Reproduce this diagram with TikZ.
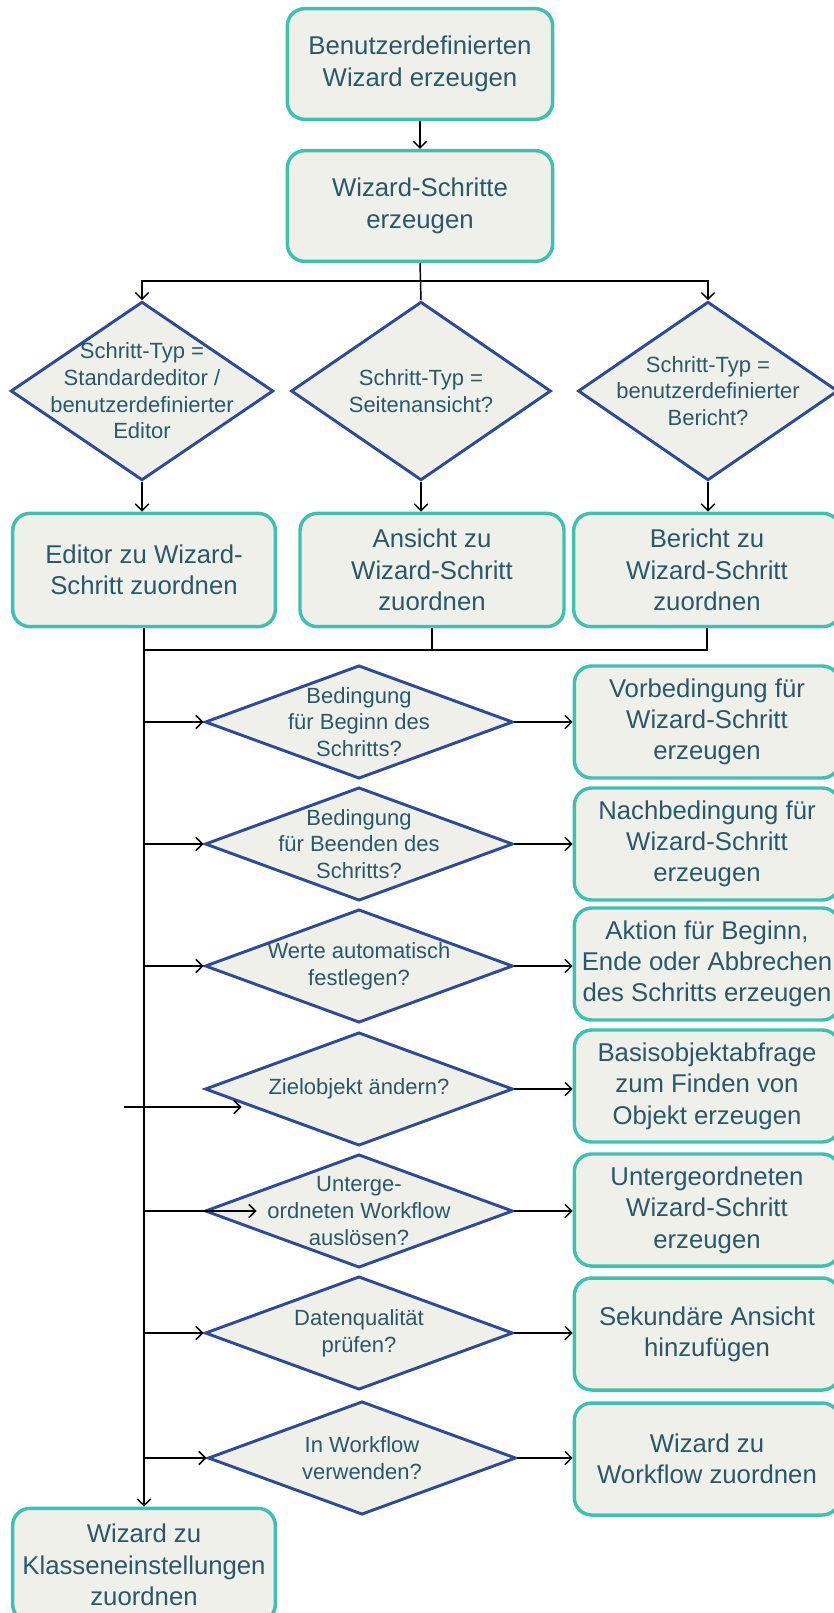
\documentclass[tikz,border=0pt]{standalone}
\usepackage{fontspec}
\setmainfont{Liberation Sans}
\usepackage{xcolor}
\usepackage{tikz}
\usetikzlibrary{arrows.meta, positioning, calc, shapes.geometric}
\definecolor{boxfill}{RGB}{240,240,234}
\definecolor{boxborder}{RGB}{62,192,178}
\definecolor{decborder}{RGB}{46,76,150}
\definecolor{textblue}{RGB}{40,88,106}
\tikzset{
    box/.style={
        rectangle,
        rounded corners=13pt,
        draw=boxborder,
        line width=2.6pt,
        fill=boxfill,
        text=textblue,
        align=center,
        font=\fontsize{19.3}{23.5}\selectfont,
        inner sep=1pt,
        minimum width=199pt,
        minimum height=84pt
    },
    decision/.style={
        diamond,
        draw=decborder,
        line width=2.2pt,
        fill=boxfill,
        inner sep=0pt,
        minimum width=231pt,
        minimum height=85pt
    },
    declabel/.style={
        text=textblue,
        align=center,
        font=\fontsize{16.5}{20}\selectfont,
        inner sep=0pt
    },
    conn/.style={line width=1.1pt},
    arrow/.style={-{Straight Barb[length=5pt,width=10pt]}, line width=1.1pt}
}

\begin{document}
\begin{tikzpicture}[x=0.75pt, y=-0.75pt]

\useasboundingbox (0,0) rectangle (833,1613);

% =========================
% Wizard anlegen
% =========================
\node[box, minimum height=83pt] (create) at (420,64) {Benutzerdefinierten\\Wizard erzeugen};

\node[box, minimum height=83pt] (steps) at (420,206) {Wizard-Schritte\\erzeugen};

% =========================
% Schritt-Typen
% =========================
\node[decision, minimum width=197pt, minimum height=134pt,
    label={[declabel]center:{Schritt-Typ =\\Standardeditor /\\benutzerdefinierter\\Editor}}]
    (typeeditor) at (142,391) {};

\node[decision, minimum width=195pt, minimum height=134pt,
    label={[declabel]center:{Schritt-Typ =\\Seitenansicht?}}]
    (typeview) at (421,391) {};

\node[decision, minimum width=195pt, minimum height=134pt,
    label={[declabel]center:{Schritt-Typ =\\benutzerdefinierter\\Bericht?}}]
    (typereport) at (708,391) {};

\node[box, minimum width=197pt, minimum height=85pt] (editor) at (144,570) {Editor zu Wizard-\\Schritt zuordnen};

\node[box, minimum width=198pt, minimum height=85pt] (view) at (432,570) {Ansicht zu\\Wizard-Schritt\\zuordnen};

\node[box, minimum width=200pt, minimum height=85pt] (report) at (707,570) {Bericht zu\\Wizard-Schritt\\zuordnen};

% =========================
% Optionale Einstellungen
% =========================
\node[decision, label={[declabel]center:{Bedingung\\für Beginn des\\Schritts?}}]
    (condbegin) at (359,722) {};
\node[decision, label={[declabel]center:{Bedingung\\für Beenden des\\Schritts?}}]
    (condend) at (359,844) {};
\node[decision, label={[declabel]center:{Werte automatisch\\festlegen?}}]
    (values) at (359,966) {};
\node[decision, label={[declabel]center:{Zielobjekt ändern?}}]
    (target) at (359,1089) {};
\node[decision, label={[declabel]center:{Unterge-\\ordneten Workflow\\auslösen?}}]
    (subflow) at (359,1211) {};
\node[decision, label={[declabel]center:{Datenqualität\\prüfen?}}]
    (quality) at (359,1333) {};
\node[decision, label={[declabel]center:{In Workflow\\verwenden?}}]
    (useflow) at (362,1458) {};

\node[box] (precond)   at (707,722)  {Vorbedingung für\\Wizard-Schritt\\erzeugen};
\node[box] (postcond)  at (707,844)  {Nachbedingung für\\Wizard-Schritt\\erzeugen};
\node[box] (action)    at (707,964)  {Aktion für Beginn,\\Ende oder Abbrechen\\des Schritts erzeugen};
\node[box] (basequery) at (707,1086) {Basisobjektabfrage\\zum Finden von\\Objekt erzeugen};
\node[box] (substep)   at (707,1210) {Untergeordneten\\Wizard-Schritt\\erzeugen};
\node[box] (secview)   at (707,1334) {Sekundäre Ansicht\\hinzufügen};
\node[box] (wfassign)  at (707,1459) {Wizard zu\\Workflow zuordnen};

\node[box, minimum width=197pt, minimum height=85pt] (classassign) at (144,1565) {Wizard zu\\Klasseneinstellungen\\zuordnen};

% =========================
% Verbindungen oben
% =========================
\draw[arrow] (create.south) -- (steps.north);

\coordinate (split) at (420,281);
\draw[conn] (steps.south) -- (typeview.north);
\draw[arrow] (split) -| (typeeditor.north);
\draw[arrow] (split) -| (typereport.north);

\draw[arrow] (typeeditor.south) -- (typeeditor.south |- editor.north);
\draw[arrow] (typeview.south) -- (typeview.south |- view.north);
\draw[arrow] (typereport.south) -- (typereport.south |- report.north);

% Zusammenfuehrung
\coordinate (merge) at (144,650);
\draw[conn] (view.south) |- (merge);
\draw[conn] (report.south) |- (merge);
\draw[arrow] (editor.south) -- (classassign.north);

% =========================
% Abzweige vom Hauptstrang
% =========================
\draw[arrow] (merge |- condbegin.west) -- (condbegin.west);
\draw[arrow] (merge |- condend.west) -- (condend.west);
\draw[arrow] (merge |- values.west) -- (values.west);
\draw[arrow] ($(target.west)+(-80,18)$) -- ($(target.west)+(38,18)$);
\draw[arrow] (merge |- subflow.west) -- ($(subflow.west)+(53,0)$);
\draw[arrow] (merge |- quality.west) -- (quality.west);
\draw[arrow] (merge |- useflow.west) -- (useflow.west);

\draw[arrow] (condbegin.east) -- (condbegin.east -| precond.west);
\draw[arrow] (condend.east) -- (condend.east -| postcond.west);
\draw[arrow] (values.east) -- (values.east -| action.west);
\draw[arrow] (target.east) -- (target.east -| basequery.west);
\draw[arrow] (subflow.east) -- (subflow.east -| substep.west);
\draw[arrow] (quality.east) -- (quality.east -| secview.west);
\draw[arrow] (useflow.east) -- (useflow.east -| wfassign.west);

\end{tikzpicture}
\end{document}
